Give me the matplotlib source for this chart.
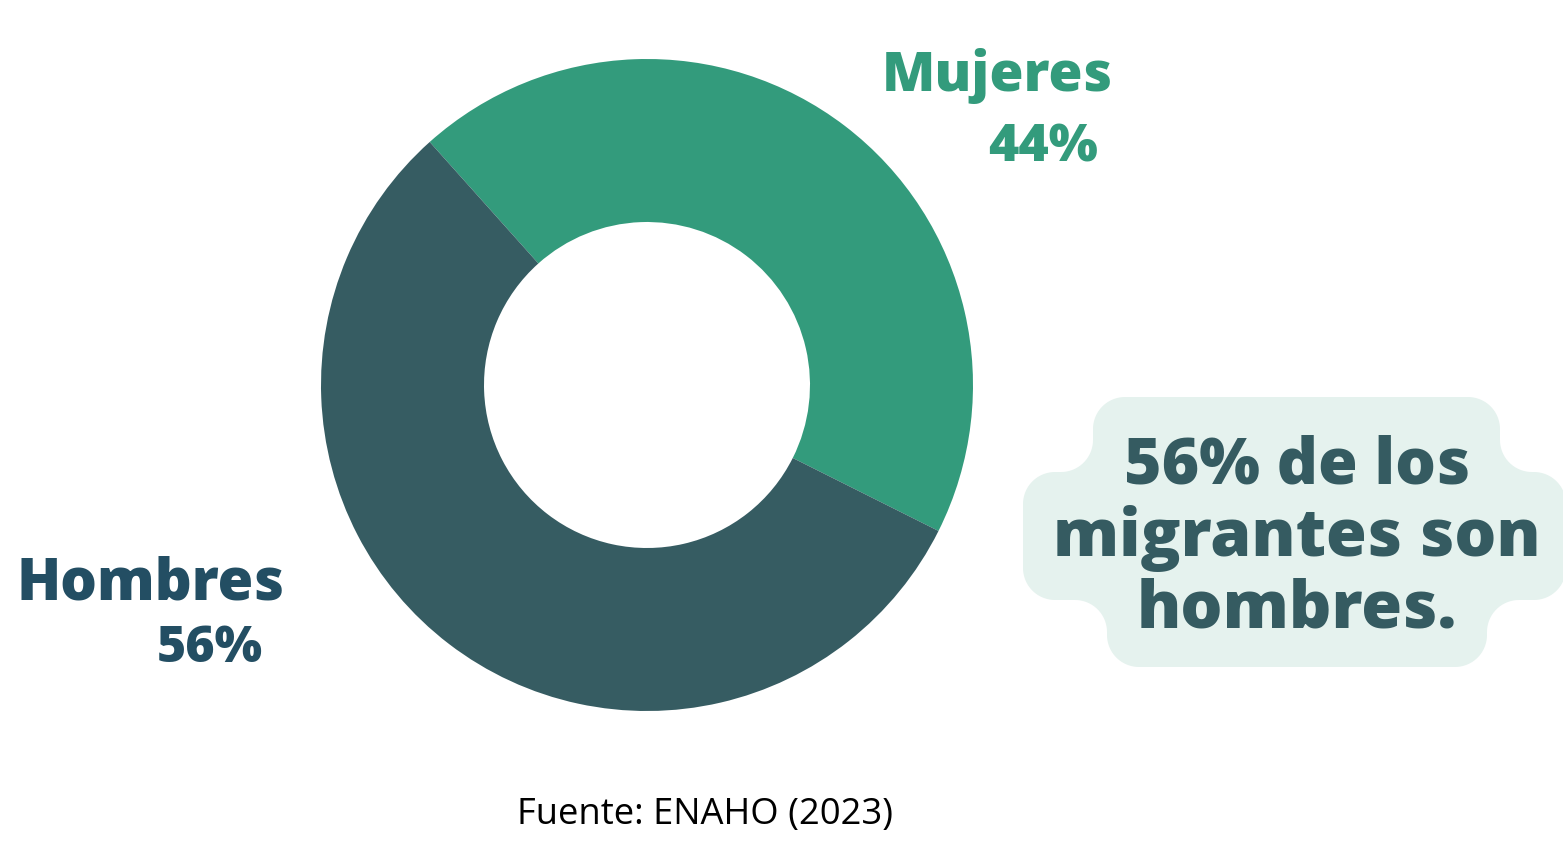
import numpy as np
import matplotlib
matplotlib.use("Agg")
import matplotlib.pyplot as plt
from matplotlib.path import Path
from matplotlib.patches import PathPatch

# ---- data ----
categories = ["Mujeres", "Hombres"]
shares = [44, 56]
share_labels = ["44%", "56%"]
callout_lines = ["56% de los", "migrantes son", "hombres."]
source_text = "Fuente: ENAHO (2023)"

# ---- style ----
W, H = 1563, 842
DPI = 100
col_m = "#339B7C"
col_h = "#365C62"
col_h_label = "#234E63"
col_box = "#E5F2EE"
col_callout = "#355B61"
FONT_B = ["Open Sans", "DejaVu Sans"]
FONT_R = ["Open Sans", "DejaVu Sans"]

fig = plt.figure(figsize=(W / DPI, H / DPI), dpi=DPI)
fig.patch.set_facecolor("white")

bg = fig.add_axes([0, 0, 1, 1])
bg.set_xlim(0, W)
bg.set_ylim(H, 0)
bg.axis("off")


def arc(cx, cy, r, a0, a1, n=20):
    t = np.radians(np.linspace(a0, a1, n))
    return list(zip(cx + r * np.cos(t), cy + r * np.sin(t)))


x1, x2, y0 = 1093, 1500, 397
xa, xb, ya, yb = 1023, 1566, 472, 600
x3, x4, y3 = 1107, 1487, 667
r = 32
pts = []
pts += arc(x2 - r, y0 + r, r, -90, 0)
pts += arc(x2 + r, ya - r, r, 180, 90)
pts += arc(xb - r, ya + r, r, -90, 0)
pts += arc(xb - r, yb - r, r, 0, 90)
pts += arc(x4 + r, yb + r, r, -90, -180)
pts += arc(x4 - r, y3 - r, r, 0, 90)
pts += arc(x3 + r, y3 - r, r, 90, 180)
pts += arc(x3 - r, yb + r, r, 0, -90)
pts += arc(xa + r, yb - r, r, 90, 180)
pts += arc(xa + r, ya + r, r, 180, 270)
pts += arc(x1 - r, ya - r, r, 90, 0)
pts += arc(x1 + r, y0 + r, r, 180, 270)
pts.append(pts[0])
codes = [Path.MOVETO] + [Path.LINETO] * (len(pts) - 2) + [Path.CLOSEPOLY]
bg.add_patch(PathPatch(Path(pts, codes), facecolor=col_box, edgecolor="none"))

cx, cy, R = 647, 385, 326
ax = fig.add_axes([(cx - R) / W, (H - cy - R) / H, 2 * R / W, 2 * R / H])
ax.pie(shares, colors=[col_m, col_h], startangle=131.8, counterclock=False,
       radius=1.0, wedgeprops=dict(width=0.5, edgecolor="none", linewidth=0))
ax.set_xlim(-1, 1)
ax.set_ylim(-1, 1)
ax.set_aspect("auto")
ax.axis("off")

renderer = fig.canvas.get_renderer()


def fit_text(x_left, x_right, y_base, s, color, weight, family, size0=40):
    t = bg.text((x_left + x_right) / 2, y_base, s, color=color, fontsize=size0,
                fontweight=weight, family=family, ha="center", va="baseline")
    w = t.get_window_extent(renderer).width
    t.set_fontsize(size0 * (x_right - x_left) / w)
    return t


fit_text(882, 1113, 91, categories[0], col_m, "heavy", FONT_B)
fit_text(988, 1098, 161, share_labels[0], col_m, "heavy", FONT_B)
fit_text(17, 285, 600, categories[1], col_h_label, "heavy", FONT_B)
fit_text(157, 263, 662, share_labels[1], col_h_label, "heavy", FONT_B)

for (xl, xr), yy, line in zip([(1125, 1470), (1053, 1540), (1137, 1457)],
                              [484, 556, 628], callout_lines):
    fit_text(xl, xr, yy, line, col_callout, "heavy", FONT_B)

fit_text(517, 893, 824, source_text, "black", "normal", FONT_R)

fig.savefig("out.png", dpi=DPI, facecolor="white")
